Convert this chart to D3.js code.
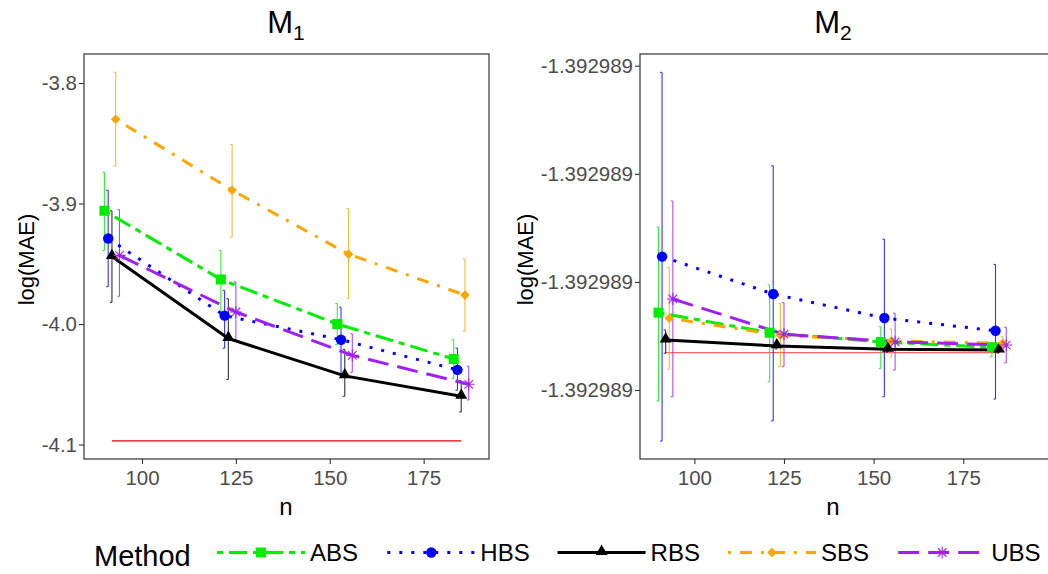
<!DOCTYPE html>
<html>
<head>
<meta charset="utf-8">
<script src="https://cdn.jsdelivr.net/npm/d3@7"></script>
<style>
  body { margin: 0; background: #fff; }
  svg { font-family: "Liberation Sans", Arial, sans-serif; }
</style>
</head>
<body>
<svg id="chart" width="1048" height="574"></svg>
<script>
// ---- data ----
const methods = ["ABS", "HBS", "RBS", "SBS", "UBS"];
const sampleSizes = [92, 123, 154, 185];
const nTicks = [100, 125, 150, 175];
const nTickLabels = ["100", "125", "150", "175"];

// M1 panel, rows follow `methods`
const m1Mean = [
  [-3.906, -3.963, -4.000, -4.029],
  [-3.929, -3.993, -4.013, -4.038],
  [-3.944, -4.012, -4.043, -4.060],
  [-3.830, -3.889, -3.942, -3.976],
  [-3.943, -3.990, -4.026, -4.050]
];
const m1Low = [
  [-3.939, -3.991, -4.017, -4.045],
  [-3.969, -4.020, -4.042, -4.055],
  [-3.982, -4.046, -4.060, -4.073],
  [-3.869, -3.928, -3.979, -4.006],
  [-3.977, -4.013, -4.040, -4.063]
];
const m1High = [
  [-3.874, -3.939, -3.983, -4.013],
  [-3.889, -3.972, -3.986, -4.020],
  [-3.906, -3.979, -4.021, -4.047],
  [-3.791, -3.851, -3.904, -3.946],
  [-3.905, -3.965, -4.008, -4.035]
];
const m1Ref = -4.097;
const m1Ticks = [-3.8, -3.9, -4.0, -4.1];
const m1TickLabels = ["-3.8", "-3.9", "-4.0", "-4.1"];

// M2 panel
const m2Mean = [
  [-1.3929887142, -1.3929887235, -1.3929887278, -1.3929887302],
  [-1.3929886883, -1.3929887056, -1.3929887167, -1.3929887226],
  [-1.3929887269, -1.3929887296, -1.3929887312, -1.3929887315],
  [-1.3929887168, -1.3929887247, -1.3929887273, -1.3929887284],
  [-1.3929887079, -1.3929887242, -1.3929887277, -1.3929887292]
];
const m2Low = [
  [-1.3929887551, -1.3929887462, -1.3929887400, -1.3929887346],
  [-1.3929887736, -1.3929887643, -1.3929887531, -1.3929887542],
  [-1.3929887330, -1.3929887310, -1.3929887324, -1.3929887329],
  [-1.3929887404, -1.3929887392, -1.3929887346, -1.3929887323],
  [-1.3929887531, -1.3929887392, -1.3929887408, -1.3929887374]
];
const m2High = [
  [-1.3929886746, -1.3929887014, -1.3929887207, -1.3929887284],
  [-1.3929886031, -1.3929886463, -1.3929886802, -1.3929886919],
  [-1.3929887222, -1.3929887282, -1.3929887299, -1.3929887301],
  [-1.3929886934, -1.3929887099, -1.3929887218, -1.3929887253],
  [-1.3929886626, -1.3929887096, -1.3929887145, -1.3929887210]
];
const m2Ref = -1.3929887327;
const m2Ticks = [-1.39298860, -1.39298865, -1.39298870, -1.39298875];
const m2TickLabels = ["-1.392989", "-1.392989", "-1.392989", "-1.392989"];

// ---- styles ----
const colors = { ABS: "#00ee00", HBS: "#0000ff", RBS: "#000000", SBS: "#ffa500", UBS: "#a020f0" };
const dashes = { ABS: "6,6,18,6", HBS: "3,9", RBS: null, SBS: "3,9,12,9", UBS: "21,9" };
const dodge = { ABS: -2, HBS: -1, RBS: 0, SBS: 1, UBS: 2 };

const svg = d3.select("#chart");
const panelTop = 54, panelBottom = 459;

const panels = [
  { sub: "1", mean: m1Mean, low: m1Low, high: m1High, ref: m1Ref, ticks: m1Ticks, tickLabels: m1TickLabels,
    x0: 84, x1: 489, xDom: [84.56, 192.4], yDom: [-4.112, -3.7759], cx: 286, labelX: 33, refColor: "#e00000", refOpacity: 1 },
  { sub: "2", mean: m2Mean, low: m2Low, high: m2High, ref: m2Ref, ticks: m2Ticks, tickLabels: m2TickLabels,
    x0: 640, x1: 1050, xDom: [84.84, 199.2], yDom: [-1.3929887819, -1.3929885946], cx: 833, labelX: 532, refColor: "red", refOpacity: 0.6 }
];

function asterisk(r) {
  const d = r * Math.SQRT1_2;
  return `M${-r},0L${r},0M0,${-r}L0,${r}M${-d},${-d}L${d},${d}M${-d},${d}L${d},${-d}`;
}

function drawMarker(sel, m) {
  const c = colors[m];
  if (m === "ABS") sel.append("path").attr("d", d3.symbol(d3.symbolSquare, 100)()).attr("fill", c);
  else if (m === "HBS") sel.append("path").attr("d", d3.symbol(d3.symbolCircle, 85)()).attr("fill", c);
  else if (m === "RBS") sel.append("path").attr("d", d3.symbol(d3.symbolTriangle, 62)()).attr("fill", c)
    .attr("transform", "translate(0,-1)");
  else if (m === "SBS") sel.append("path").attr("d", d3.symbol(d3.symbolSquare, 46)()).attr("fill", c)
    .attr("transform", "rotate(45)");
  else sel.append("path").attr("d", asterisk(6)).attr("stroke", c).attr("stroke-width", 1.1).attr("fill", "none");
}

panels.forEach(p => {
  const x = d3.scaleLinear().domain(p.xDom).range([p.x0, p.x1]);
  const y = d3.scaleLinear().domain(p.yDom).range([panelBottom, panelTop]);
  const g = svg.append("g");

  // title
  const t = g.append("text").attr("x", p.cx).attr("y", 33).attr("text-anchor", "middle")
    .attr("font-size", 31).attr("fill", "#000");
  t.append("tspan").text("M");
  t.append("tspan").attr("font-size", 21).attr("dy", 7).text(p.sub);

  // axes
  const ya = g.append("g").attr("transform", `translate(${p.x0},0)`)
    .call(d3.axisLeft(y).tickValues(p.ticks).tickFormat((d, i) => p.tickLabels[i]).tickSize(5).tickPadding(2));
  const xa = g.append("g").attr("transform", `translate(0,${panelBottom})`)
    .call(d3.axisBottom(x).tickValues(nTicks).tickFormat((d, i) => nTickLabels[i]).tickSize(5).tickPadding(6));
  [ya, xa].forEach(a => {
    a.select(".domain").remove();
    a.selectAll(".tick line").attr("stroke", "#333").attr("stroke-width", 1.1);
    a.selectAll(".tick text").attr("fill", "#4d4d4d").attr("font-size", 20.5)
      .attr("font-family", "Liberation Sans, Arial, sans-serif");
  });

  g.append("text").attr("transform", `translate(${p.labelX + 1},${(panelTop + panelBottom) / 2 + 3}) rotate(-90)`)
    .attr("text-anchor", "middle").attr("font-size", 22).text("log(MAE)");
  g.append("text").attr("x", p.cx).attr("y", 515).attr("text-anchor", "middle")
    .attr("font-size", 24).text("n");

  // reference line
  g.append("line")
    .attr("x1", x(sampleSizes[0])).attr("x2", x(sampleSizes[sampleSizes.length - 1]))
    .attr("y1", y(p.ref)).attr("y2", y(p.ref))
    .attr("stroke", p.refColor).attr("stroke-width", 1.3).attr("opacity", p.refOpacity);

  // error bars
  methods.forEach((m, k) => {
    sampleSizes.forEach((n, i) => {
      const xx = x(n + dodge[m]);
      const eb = g.append("g").attr("stroke", colors[m]).attr("stroke-width", 1.1).attr("opacity", 0.8);
      eb.append("line").attr("x1", xx).attr("x2", xx).attr("y1", y(p.low[k][i])).attr("y2", y(p.high[k][i]));
      [p.low[k][i], p.high[k][i]].forEach(v => {
        eb.append("line").attr("x1", xx - 2).attr("x2", xx).attr("y1", y(v)).attr("y2", y(v));
      });
    });
  });

  // lines
  const line = d3.line().x(d => x(d.n)).y(d => y(d.v)).curve(d3.curveLinear);
  methods.forEach((m, k) => {
    const pts = sampleSizes.map((n, i) => ({ n: n + dodge[m], v: p.mean[k][i] }));
    g.append("path").datum(pts).attr("d", line)
      .attr("fill", "none").attr("stroke", colors[m]).attr("stroke-width", 3)
      .attr("stroke-dasharray", dashes[m]).attr("stroke-linejoin", "round");
  });

  // points
  methods.forEach((m, k) => {
    sampleSizes.forEach((n, i) => {
      const pg = g.append("g").attr("transform", `translate(${x(n + dodge[m])},${y(p.mean[k][i])})`);
      drawMarker(pg, m);
    });
  });

  // panel border
  g.append("rect").attr("x", p.x0).attr("y", panelTop).attr("width", p.x1 - p.x0).attr("height", panelBottom - panelTop)
    .attr("fill", "none").attr("stroke", "#333").attr("stroke-width", 1.2);
});

// ---- legend ----
const legend = svg.append("g");
legend.append("text").attr("x", 94).attr("y", 566).attr("font-size", 29).text("Method");
methods.forEach((m, k) => {
  const lx = 217 + k * 170.3, ly = 552.5;
  const item = legend.append("g").attr("transform", `translate(${lx},${ly})`);
  item.append("line").attr("x1", 0).attr("x2", 88).attr("y1", 0).attr("y2", 0)
    .attr("stroke", colors[m]).attr("stroke-width", 3).attr("stroke-dasharray", dashes[m]);
  const mk = item.append("g").attr("transform", "translate(44,0)");
  drawMarker(mk, m);
  item.append("text").attr("x", 93).attr("y", 8).attr("font-size", 24).text(m);
});
</script>
</body>
</html>
